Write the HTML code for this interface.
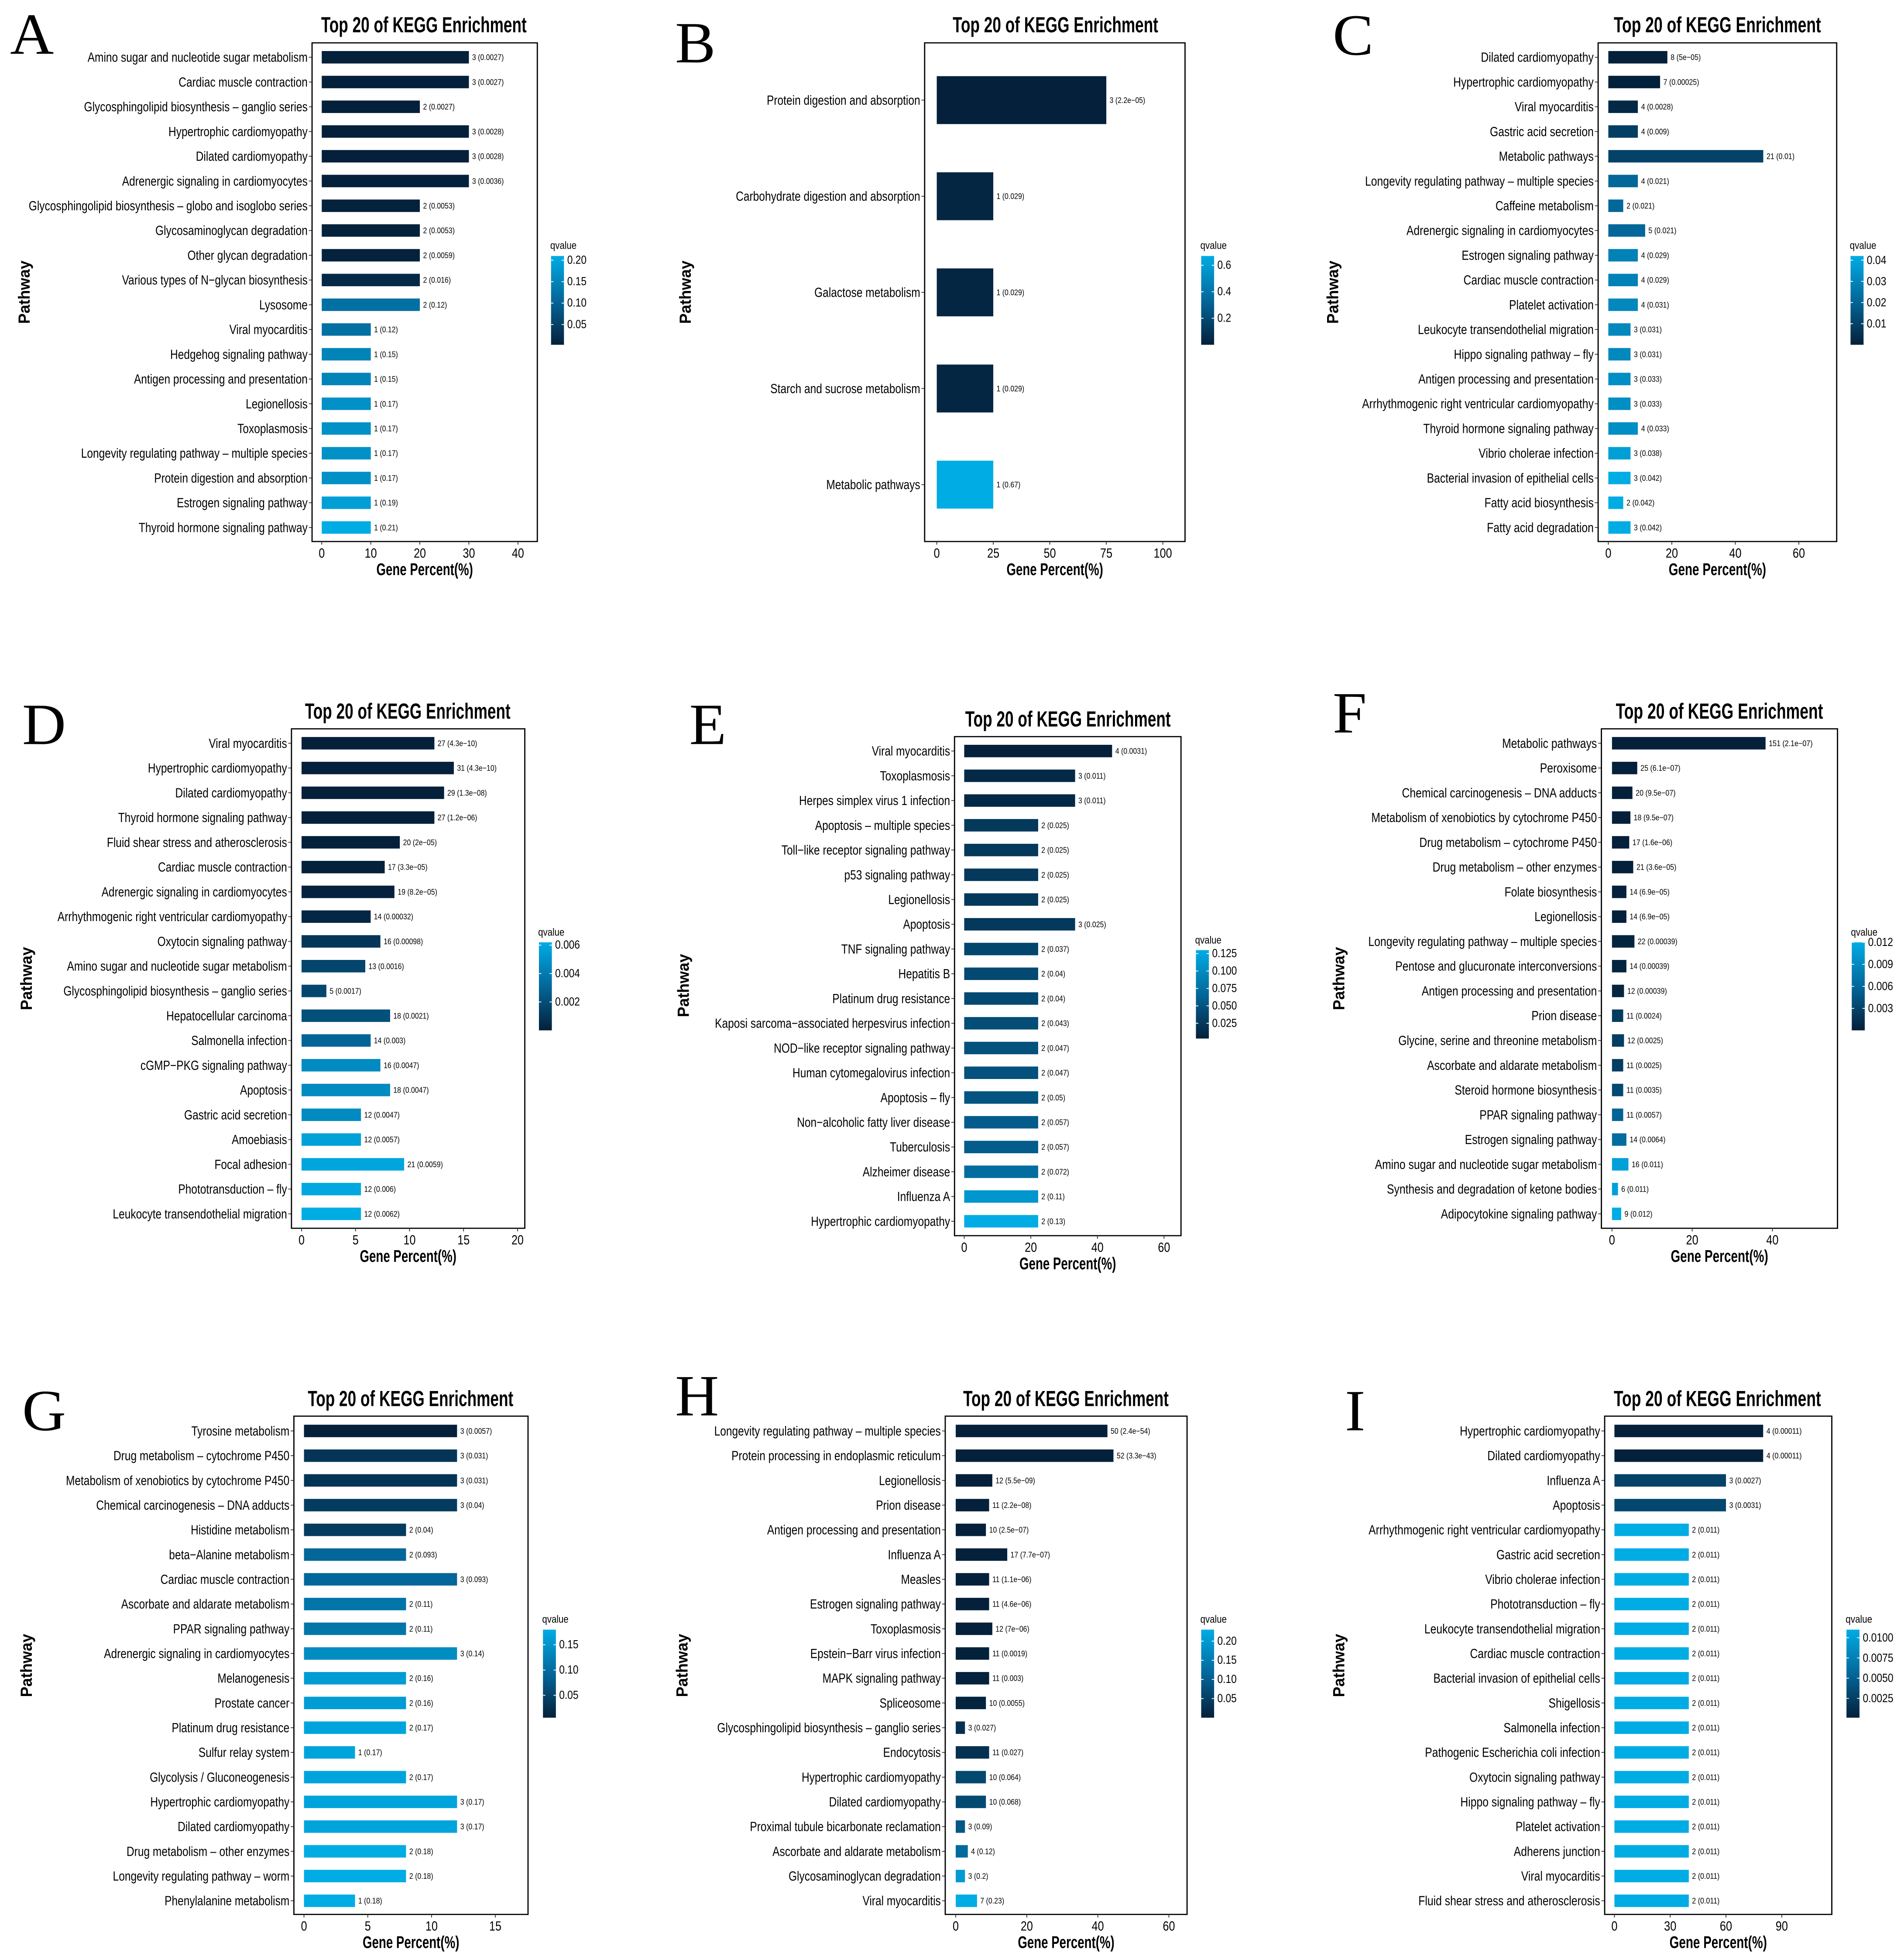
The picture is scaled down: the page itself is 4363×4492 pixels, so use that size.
<!DOCTYPE html>
<html><head><meta charset="utf-8"><title>Top 20 of KEGG Enrichment</title>
<style>html,body{margin:0;padding:0;background:#fff}svg{display:block}</style>
</head><body>
<svg id="fig" xmlns="http://www.w3.org/2000/svg" width="4363" height="4492" viewBox="0 0 4363 4492" font-family="'Liberation Sans',sans-serif">
<defs><linearGradient id="qgrad" x1="0" y1="0" x2="0" y2="1"><stop offset="0" stop-color="#00ace4"/><stop offset="0.5" stop-color="#03679a"/><stop offset="1" stop-color="#04203a"/></linearGradient></defs>
<rect x="0" y="0" width="4363" height="4492" fill="#fff"/>
</svg>
<script>
// ---------- DATA ----------
const A_labels=["Amino sugar and nucleotide sugar metabolism","Cardiac muscle contraction","Glycosphingolipid biosynthesis – ganglio series","Hypertrophic cardiomyopathy","Dilated cardiomyopathy","Adrenergic signaling in cardiomyocytes","Glycosphingolipid biosynthesis – globo and isoglobo series","Glycosaminoglycan degradation","Other glycan degradation","Various types of N−glycan biosynthesis","Lysosome","Viral myocarditis","Hedgehog signaling pathway","Antigen processing and presentation","Legionellosis","Toxoplasmosis","Longevity regulating pathway – multiple species","Protein digestion and absorption","Estrogen signaling pathway","Thyroid hormone signaling pathway"];
const A_counts=[3,3,2,3,3,3,2,2,2,2,2,1,1,1,1,1,1,1,1,1];
const A_q=["0.0027","0.0027","0.0027","0.0028","0.0028","0.0036","0.0053","0.0053","0.0059","0.016","0.12","0.12","0.15","0.15","0.17","0.17","0.17","0.17","0.19","0.21"];
const A_pct=[30,30,20,30,30,30,20,20,20,20,20,10,10,10,10,10,10,10,10,10];
const A_xticks=[0,10,20,30,40];
const A_qticks=["0.05","0.10","0.15","0.20"];

const B_labels=["Protein digestion and absorption","Carbohydrate digestion and absorption","Galactose metabolism","Starch and sucrose metabolism","Metabolic pathways"];
const B_counts=[3,1,1,1,1];
const B_q=["2.2e−05","0.029","0.029","0.029","0.67"];
const B_pct=[75,25,25,25,25];
const B_xticks=[0,25,50,75,100];
const B_qticks=["0.2","0.4","0.6"];

const C_labels=["Dilated cardiomyopathy","Hypertrophic cardiomyopathy","Viral myocarditis","Gastric acid secretion","Metabolic pathways","Longevity regulating pathway – multiple species","Caffeine metabolism","Adrenergic signaling in cardiomyocytes","Estrogen signaling pathway","Cardiac muscle contraction","Platelet activation","Leukocyte transendothelial migration","Hippo signaling pathway – fly","Antigen processing and presentation","Arrhythmogenic right ventricular cardiomyopathy","Thyroid hormone signaling pathway","Vibrio cholerae infection","Bacterial invasion of epithelial cells","Fatty acid biosynthesis","Fatty acid degradation"];
const C_counts=[8,7,4,4,21,4,2,5,4,4,4,3,3,3,3,4,3,3,2,3];
const C_q=["5e−05","0.00025","0.0028","0.009","0.01","0.021","0.021","0.021","0.029","0.029","0.031","0.031","0.031","0.033","0.033","0.033","0.038","0.042","0.042","0.042"];
const C_pct=[18.6,16.3,9.3,9.3,48.8,9.3,4.7,11.6,9.3,9.3,9.3,7.0,7.0,7.0,7.0,9.3,7.0,7.0,4.7,7.0];
const C_xticks=[0,20,40,60];
const C_qticks=["0.01","0.02","0.03","0.04"];

const D_labels=["Viral myocarditis","Hypertrophic cardiomyopathy","Dilated cardiomyopathy","Thyroid hormone signaling pathway","Fluid shear stress and atherosclerosis","Cardiac muscle contraction","Adrenergic signaling in cardiomyocytes","Arrhythmogenic right ventricular cardiomyopathy","Oxytocin signaling pathway","Amino sugar and nucleotide sugar metabolism","Glycosphingolipid biosynthesis – ganglio series","Hepatocellular carcinoma","Salmonella infection","cGMP−PKG signaling pathway","Apoptosis","Gastric acid secretion","Amoebiasis","Focal adhesion","Phototransduction – fly","Leukocyte transendothelial migration"];
const D_counts=[27,31,29,27,20,17,19,14,16,13,5,18,14,16,18,12,12,21,12,12];
const D_q=["4.3e−10","4.3e−10","1.3e−08","1.2e−06","2e−05","3.3e−05","8.2e−05","0.00032","0.00098","0.0016","0.0017","0.0021","0.003","0.0047","0.0047","0.0047","0.0057","0.0059","0.006","0.0062"];
const D_pct=[12.3,14.1,13.2,12.3,9.1,7.7,8.6,6.4,7.3,5.9,2.3,8.2,6.4,7.3,8.2,5.5,5.5,9.5,5.5,5.5];
const D_xticks=[0,5,10,15,20];
const D_qticks=["0.002","0.004","0.006"];

const E_labels=["Viral myocarditis","Toxoplasmosis","Herpes simplex virus 1 infection","Apoptosis – multiple species","Toll−like receptor signaling pathway","p53 signaling pathway","Legionellosis","Apoptosis","TNF signaling pathway","Hepatitis B","Platinum drug resistance","Kaposi sarcoma−associated herpesvirus infection","NOD−like receptor signaling pathway","Human cytomegalovirus infection","Apoptosis – fly","Non−alcoholic fatty liver disease","Tuberculosis","Alzheimer disease","Influenza A","Hypertrophic cardiomyopathy"];
const E_counts=[4,3,3,2,2,2,2,3,2,2,2,2,2,2,2,2,2,2,2,2];
const E_q=["0.0031","0.011","0.011","0.025","0.025","0.025","0.025","0.025","0.037","0.04","0.04","0.043","0.047","0.047","0.05","0.057","0.057","0.072","0.11","0.13"];
const E_pct=[44.4,33.3,33.3,22.2,22.2,22.2,22.2,33.3,22.2,22.2,22.2,22.2,22.2,22.2,22.2,22.2,22.2,22.2,22.2,22.2];
const E_xticks=[0,20,40,60];
const E_qticks=["0.025","0.050","0.075","0.100","0.125"];

const F_labels=["Metabolic pathways","Peroxisome","Chemical carcinogenesis – DNA adducts","Metabolism of xenobiotics by cytochrome P450","Drug metabolism – cytochrome P450","Drug metabolism – other enzymes","Folate biosynthesis","Legionellosis","Longevity regulating pathway – multiple species","Pentose and glucuronate interconversions","Antigen processing and presentation","Prion disease","Glycine, serine and threonine metabolism","Ascorbate and aldarate metabolism","Steroid hormone biosynthesis","PPAR signaling pathway","Estrogen signaling pathway","Amino sugar and nucleotide sugar metabolism","Synthesis and degradation of ketone bodies","Adipocytokine signaling pathway"];
const F_counts=[151,25,20,18,17,21,14,14,22,14,12,11,12,11,11,11,14,16,6,9];
const F_q=["2.1e−07","6.1e−07","9.5e−07","9.5e−07","1.6e−06","3.6e−05","6.9e−05","6.9e−05","0.00039","0.00039","0.00039","0.0024","0.0025","0.0025","0.0035","0.0057","0.0064","0.011","0.011","0.012"];
const F_pct=[38.3,6.3,5.1,4.6,4.3,5.3,3.6,3.6,5.6,3.6,3.0,2.8,3.0,2.8,2.8,2.8,3.6,4.1,1.5,2.3];
const F_xticks=[0,20,40];
const F_qticks=["0.003","0.006","0.009","0.012"];

const G_labels=["Tyrosine metabolism","Drug metabolism – cytochrome P450","Metabolism of xenobiotics by cytochrome P450","Chemical carcinogenesis – DNA adducts","Histidine metabolism","beta−Alanine metabolism","Cardiac muscle contraction","Ascorbate and aldarate metabolism","PPAR signaling pathway","Adrenergic signaling in cardiomyocytes","Melanogenesis","Prostate cancer","Platinum drug resistance","Sulfur relay system","Glycolysis / Gluconeogenesis","Hypertrophic cardiomyopathy","Dilated cardiomyopathy","Drug metabolism – other enzymes","Longevity regulating pathway – worm","Phenylalanine metabolism"];
const G_counts=[3,3,3,3,2,2,3,2,2,3,2,2,2,1,2,3,3,2,2,1];
const G_q=["0.0057","0.031","0.031","0.04","0.04","0.093","0.093","0.11","0.11","0.14","0.16","0.16","0.17","0.17","0.17","0.17","0.17","0.18","0.18","0.18"];
const G_pct=[12,12,12,12,8,8,12,8,8,12,8,8,8,4,8,12,12,8,8,4];
const G_xticks=[0,5,10,15];
const G_qticks=["0.05","0.10","0.15"];

const H_labels=["Longevity regulating pathway – multiple species","Protein processing in endoplasmic reticulum","Legionellosis","Prion disease","Antigen processing and presentation","Influenza A","Measles","Estrogen signaling pathway","Toxoplasmosis","Epstein−Barr virus infection","MAPK signaling pathway","Spliceosome","Glycosphingolipid biosynthesis – ganglio series","Endocytosis","Hypertrophic cardiomyopathy","Dilated cardiomyopathy","Proximal tubule bicarbonate reclamation","Ascorbate and aldarate metabolism","Glycosaminoglycan degradation","Viral myocarditis"];
const H_counts=[50,52,12,11,10,17,11,11,12,11,11,10,3,11,10,10,3,4,3,7];
const H_q=["2.4e−54","3.3e−43","5.5e−09","2.2e−08","2.5e−07","7.7e−07","1.1e−06","4.6e−06","7e−06","0.0019","0.003","0.0055","0.027","0.027","0.064","0.068","0.09","0.12","0.2","0.23"];
const H_pct=[42.7,44.4,10.3,9.4,8.5,14.5,9.4,9.4,10.3,9.4,9.4,8.5,2.6,9.4,8.5,8.5,2.6,3.4,2.6,6.0];
const H_xticks=[0,20,40,60];
const H_qticks=["0.05","0.10","0.15","0.20"];

const I_labels=["Hypertrophic cardiomyopathy","Dilated cardiomyopathy","Influenza A","Apoptosis","Arrhythmogenic right ventricular cardiomyopathy","Gastric acid secretion","Vibrio cholerae infection","Phototransduction – fly","Leukocyte transendothelial migration","Cardiac muscle contraction","Bacterial invasion of epithelial cells","Shigellosis","Salmonella infection","Pathogenic Escherichia coli infection","Oxytocin signaling pathway","Hippo signaling pathway – fly","Platelet activation","Adherens junction","Viral myocarditis","Fluid shear stress and atherosclerosis"];
const I_counts=[4,4,3,3,2,2,2,2,2,2,2,2,2,2,2,2,2,2,2,2];
const I_q=["0.00011","0.00011","0.0027","0.0031","0.011","0.011","0.011","0.011","0.011","0.011","0.011","0.011","0.011","0.011","0.011","0.011","0.011","0.011","0.011","0.011"];
const I_pct=[80,80,60,60,40,40,40,40,40,40,40,40,40,40,40,40,40,40,40,40];
const I_xticks=[0,30,60,90];
const I_qticks=["0.0025","0.0050","0.0075","0.0100"];

// ---------- LAYOUT ----------
const panels=[
 {id:"A",ox:0,oy:0,sx:1.081,sy:1.12,box:[773,110,1331,1390],x0:797,ppu:12.15,y1:147,yN:1354,bh:32,tcx:1050,ty:65,lx:25,ly:138,px:60,py:750,gx:1365,gq:630,gt:657,gb:885,L:A_labels,C:A_counts,Q:A_q,P:A_pct,XT:A_xticks,QT:A_qticks},
 {id:"B",ox:1450,oy:0,sx:1.081,sy:1.12,box:[723,110,1368,1390],x0:753,ppu:5.6,y1:257,yN:1244,bh:123,tcx:1047,ty:65,lx:105,ly:160,px:130,py:750,gx:1408,gq:630,gt:657,gb:885,L:B_labels,C:B_counts,Q:B_q,P:B_pct,XT:B_xticks,QT:B_qticks},
 {id:"C",ox:2900,oy:0,sx:1.072,sy:1.12,box:[817,110,1403,1390],x0:842,ppu:7.8,y1:147,yN:1354,bh:32,tcx:1110,ty:65,lx:165,ly:140,px:165,py:750,gx:1437,gq:630,gt:657,gb:885,L:C_labels,C:C_counts,Q:C_q,P:C_pct,XT:C_xticks,QT:C_qticks},
 {id:"D",ox:0,oy:1540,sx:1.081,sy:1.12,box:[722,146,1300,1428],x0:747,ppu:26.75,y1:183,yN:1391,bh:32,tcx:1010,ty:102,lx:55,ly:185,px:65,py:787,gx:1335,gq:668,gt:694,gb:920,L:D_labels,C:D_counts,Q:D_q,P:D_pct,XT:D_xticks,QT:D_qticks},
 {id:"E",ox:1450,oy:1540,sx:1.081,sy:1.12,box:[797,166,1358,1447],x0:821,ppu:8.25,y1:203,yN:1410,bh:32,tcx:1078,ty:122,lx:140,ly:185,px:125,py:805,gx:1395,gq:688,gt:714,gb:941,L:E_labels,C:E_counts,Q:E_q,P:E_pct,XT:E_xticks,QT:E_qticks},
 {id:"F",ox:2900,oy:1540,sx:1.072,sy:1.12,box:[825,146,1405,1428],x0:851,ppu:9.85,y1:183,yN:1391,bh:32,tcx:1115,ty:102,lx:165,ly:155,px:180,py:787,gx:1440,gq:668,gt:694,gb:920,L:F_labels,C:F_counts,Q:F_q,P:F_pct,XT:F_xticks,QT:F_qticks},
 {id:"G",ox:0,oy:3092,sx:1.081,sy:1.12,box:[728,172,1308,1451],x0:753,ppu:31.6,y1:210,yN:1416,bh:32,tcx:1017,ty:128,lx:55,ly:208,px:65,py:812,gx:1345,gq:693,gt:720,gb:946,L:G_labels,C:G_counts,Q:G_q,P:G_pct,XT:G_xticks,QT:G_qticks},
 {id:"H",ox:1450,oy:3092,sx:1.081,sy:1.12,box:[774,172,1373,1451],x0:800,ppu:8.8,y1:210,yN:1416,bh:32,tcx:1073,ty:128,lx:105,ly:170,px:122,py:812,gx:1408,gq:693,gt:720,gb:946,L:H_labels,C:H_counts,Q:H_q,P:H_pct,XT:H_xticks,QT:H_qticks},
 {id:"I",ox:2900,oy:3092,sx:1.072,sy:1.12,box:[833,172,1391,1451],x0:857,ppu:4.567,y1:210,yN:1416,bh:32,tcx:1110,ty:128,lx:195,ly:208,px:180,py:812,gx:1427,gq:693,gt:720,gb:946,L:I_labels,C:I_counts,Q:I_q,P:I_pct,XT:I_xticks,QT:I_qticks}
];

const NS="http://www.w3.org/2000/svg";
const svg=document.getElementById("fig");
function mk(tag,parent,attrs){const e=document.createElementNS(NS,tag);for(const k in attrs)e.setAttribute(k,attrs[k]);parent.appendChild(e);return e;}
function txt(parent,x,y,str,size,sx,anchor,weight,name,family){
  const e=mk("text",parent,{x:x/sx,y:y,"font-size":size,"text-anchor":anchor,"dominant-baseline":"central",fill:"#000",transform:"scale("+sx+",1)"});
  if(weight)e.setAttribute("font-weight",weight);
  if(family)e.setAttribute("style","font-family:"+family);
  
  
  e.textContent=str;return e;
}
function qnum(s){return parseFloat(s.replace("−","-"));}
function qcolor(t){const d=[4,32,58],m=[3,103,154],l=[0,172,228];let a,b,u;if(t<0.5){a=d;b=m;u=t/0.5;}else{a=m;b=l;u=(t-0.5)/0.5;}return "rgb("+a.map((v,i)=>Math.round(v+(b[i]-v)*u)).join(",")+")";}

panels.forEach(p=>{
  const g=mk("g",svg,{transform:"translate("+p.ox+","+p.oy+") scale("+(1/p.sx)+","+(1/p.sy)+")"});
  
  
  const [bl,bt,br,bb]=p.box;
  const qs=p.Q.map(qnum);const qmin=Math.min(...qs),qmax=Math.max(...qs);
  const n=p.L.length;const step=n>1?(p.yN-p.y1)/(n-1):0;
  const xs=v=>p.x0+v*p.ppu;
  const ys=i=>p.y1+i*step;
  txt(g,p.lx,p.ly-50,p.id,150,1,"start",null,"panel-letter","'Liberation Serif',serif");
  txt(g,p.tcx,p.ty,"Top 20 of KEGG Enrichment",56,0.68,"middle","bold","chart-title");
  for(let i=0;i<n;i++){
    const y=ys(i);
    const r=mk("rect",g,{x:xs(0),y:y-p.bh/2,width:xs(p.P[i])-xs(0),height:p.bh,fill:qcolor((qs[i]-qmin)/(qmax-qmin||1))});
    
    
    txt(g,xs(p.P[i])+8,y,p.C[i]+" ("+p.Q[i]+")",21,0.82,"start",null,"bar-value-label");
    txt(g,bl-11,y,p.L[i],34,0.78,"end",null,"pathway-label");
    const tk=mk("line",g,{x1:bl-8,x2:bl,y1:y,y2:y,stroke:"#333","stroke-width":2});
    
    
  }
  const fr=mk("rect",g,{x:bl,y:bt,width:br-bl,height:bb-bt,fill:"none",stroke:"#000","stroke-width":3});
  
  
  p.XT.forEach(v=>{
    const x=xs(v);
    const tk=mk("line",g,{x1:x,x2:x,y1:bb,y2:bb+8,stroke:"#333","stroke-width":2});
    
    
    txt(g,x,bb+30,String(v),34,0.8,"middle",null,"x-tick-label");
  });
  txt(g,(bl+br)/2,bb+72,"Gene Percent(%)",44,0.68,"middle","bold","x-axis-title");
  const yt=mk("text",g,{x:0,y:0,"font-size":40,"font-weight":"bold","text-anchor":"middle","dominant-baseline":"central",transform:"translate("+p.px+","+p.py+") rotate(-90)"});
  
  
  yt.textContent="Pathway";
  txt(g,p.gx-2,p.gq,"qvalue",27,0.82,"start",null,"legend-title");
  const cb=mk("rect",g,{x:p.gx,y:p.gt,width:32,height:p.gb-p.gt,fill:"url(#qgrad)"});
  
  
  const qy=v=>p.gt+(qmax-v)/(qmax-qmin)*(p.gb-p.gt);
  p.QT.forEach(t=>{
    const y=qy(parseFloat(t));
    const l1=mk("line",g,{x1:p.gx,x2:p.gx+6,y1:y,y2:y,stroke:"#fff","stroke-width":2});
    
    
    const l2=mk("line",g,{x1:p.gx+26,x2:p.gx+32,y1:y,y2:y,stroke:"#fff","stroke-width":2});
    
    
    txt(g,p.gx+40,y,t,30,0.82,"start",null,"legend-tick-label");
  });
});
</script>
</body></html>
